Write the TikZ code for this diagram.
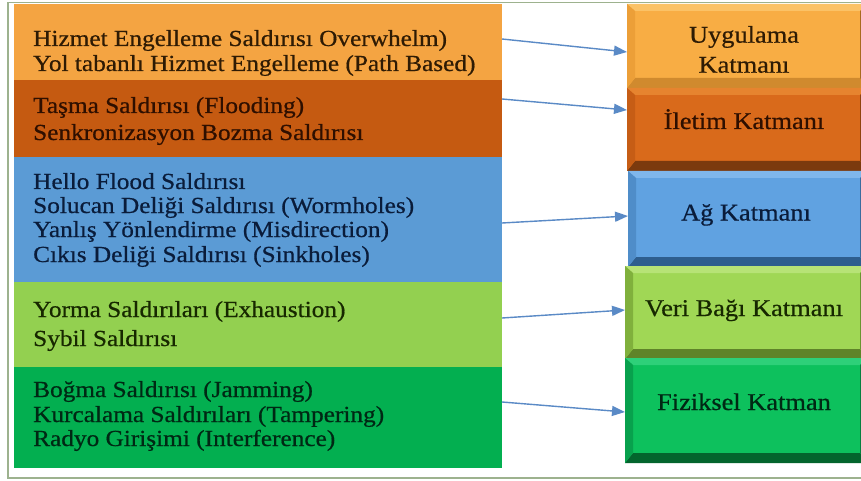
\documentclass[tikz,border=0pt]{standalone}
\usepackage{fontspec}
\setmainfont{Liberation Serif}[FakeStretch=1.1, FakeBold=0.6]
\usetikzlibrary{arrows.meta,calc}

% band colours (left column)
\definecolor{bandA}{HTML}{F4A442}
\definecolor{bandB}{HTML}{C55A11}
\definecolor{bandC}{HTML}{5B9BD5}
\definecolor{bandD}{HTML}{93D050}
\definecolor{bandE}{HTML}{03AF50}
% text colours
\definecolor{txtA}{HTML}{2E1B04}
\definecolor{txtB}{HTML}{2E0F00}
\definecolor{txtC}{HTML}{0A1C3A}
\definecolor{txtD}{HTML}{172800}
\definecolor{txtE}{HTML}{002814}
% bevelled layer boxes: face, top, bottom, left, right
\definecolor{b1face}{HTML}{F8AD44}\definecolor{b1top}{HTML}{FBC266}\definecolor{b1bot}{HTML}{D08A2E}\definecolor{b1lft}{HTML}{EC9F38}\definecolor{b1rgt}{HTML}{A86A1E}
\definecolor{b2face}{HTML}{D96A1B}\definecolor{b2top}{HTML}{E6842F}\definecolor{b2bot}{HTML}{7B3A0E}\definecolor{b2lft}{HTML}{C65D15}\definecolor{b2rgt}{HTML}{8F440E}
\definecolor{b3face}{HTML}{60A2E1}\definecolor{b3top}{HTML}{7FB7EC}\definecolor{b3bot}{HTML}{2E5E8E}\definecolor{b3lft}{HTML}{4F8DC9}\definecolor{b3rgt}{HTML}{3A6C9E}
\definecolor{b4face}{HTML}{A0D755}\definecolor{b4top}{HTML}{B7E376}\definecolor{b4bot}{HTML}{5F8429}\definecolor{b4lft}{HTML}{80B03C}\definecolor{b4rgt}{HTML}{6A9530}
\definecolor{b5face}{HTML}{0DC15D}\definecolor{b5top}{HTML}{2ED079}\definecolor{b5bot}{HTML}{03652D}\definecolor{b5lft}{HTML}{08A14D}\definecolor{b5rgt}{HTML}{078040}
\definecolor{linkblue}{HTML}{5A8AC6}
\definecolor{framegreen}{HTML}{9DB28E}

\tikzset{
  band/.style={rectangle, inner sep=0pt, outer sep=0pt, draw=none},
  layer/.style={rectangle, inner sep=0pt, outer sep=0pt, draw=none},
  attack/.style={anchor=base west, inner sep=0pt, font=\fontsize{23}{25}\selectfont},
  layertext/.style={anchor=base, inner sep=0pt, font=\fontsize{24}{26}\selectfont},
  link/.style={draw=linkblue, line width=1.4pt, -{Triangle[length=13pt,width=10pt]}},
}

% bevel edges around a layer box: node name, colour prefix
\newcommand\bevelsides[2]{%
  \fill[#2top] (#1.north west) -- (#1.north east) -- ([shift={(-8,7)}]#1.north east) -- ([shift={(8,7)}]#1.north west) -- cycle;
  \fill[#2bot] (#1.south west) -- (#1.south east) -- ([shift={(-8,-10)}]#1.south east) -- ([shift={(8,-10)}]#1.south west) -- cycle;
  \fill[#2lft] (#1.north west) -- ([shift={(8,7)}]#1.north west) -- ([shift={(8,-10)}]#1.south west) -- (#1.south west) -- cycle;
  \fill[#2rgt] (#1.north east) -- ([shift={(-8,7)}]#1.north east) -- ([shift={(-8,-10)}]#1.south east) -- (#1.south east) -- cycle;
}

\begin{document}
\begin{tikzpicture}[x=1pt, y=-1pt]
\useasboundingbox (0,0) rectangle (861,481);
\clip (0,0) rectangle (861,481);
\fill[white] (0,0) rectangle (861,481);

% outer frame
\draw[framegreen, line width=1.5pt] (8,2.5) rectangle (880,478);

% left column: attack groups
\node[band, fill=bandA, minimum width=488pt, minimum height=76pt]  (band1) at (258,42) {};
\node[band, fill=bandB, minimum width=488pt, minimum height=77pt]  (band2) at (258,118.5) {};
\node[band, fill=bandC, minimum width=488pt, minimum height=125pt] (band3) at (258,219.5) {};
\node[band, fill=bandD, minimum width=488pt, minimum height=85pt]  (band4) at (258,324.5) {};
\node[band, fill=bandE, minimum width=488pt, minimum height=101pt] (band5) at (258,417.5) {};

\node[attack, txtA] (t1a) at (33,46) {Hizmet Engelleme Saldırısı Overwhelm)};
\node[attack, txtA] (t1b) at (33,71) {Yol tabanlı Hizmet Engelleme (Path Based)};
\node[attack, txtB] (t2a) at (33,113) {Taşma Saldırısı (Flooding)};
\node[attack, txtB] (t2b) at (33,140) {Senkronizasyon Bozma Saldırısı};
\node[attack, txtC] (t3a) at (33,189) {Hello Flood Saldırısı};
\node[attack, txtC] (t3b) at (33,213) {Solucan Deliği Saldırısı (Wormholes)};
\node[attack, txtC] (t3c) at (33,237) {Yanlış Yönlendirme (Misdirection)};
\node[attack, txtC] (t3d) at (33,262) {Cıkıs Deliği Saldırısı (Sinkholes)};
\node[attack, txtD] (t4a) at (33,317) {Yorma Saldırıları (Exhaustion)};
\node[attack, txtD] (t4b) at (33,346) {Sybil Saldırısı};
\node[attack, txtE] (t5a) at (33,397) {Boğma Saldırısı (Jamming)};
\node[attack, txtE] (t5b) at (33,422) {Kurcalama Saldırıları (Tampering)};
\node[attack, txtE] (t5c) at (33,446) {Radyo Girişimi (Interference)};

% right column: protocol layers
\node[layer, fill=b1face, minimum width=241pt, minimum height=84pt]  (lay1) at (747.5,46) {};
\bevelsides{lay1}{b1}
\node[layer, fill=b2face, minimum width=241pt, minimum height=83pt]  (lay2) at (747.5,129.5) {};
\bevelsides{lay2}{b2}
\node[layer, fill=b3face, minimum width=240pt, minimum height=96pt]  (lay3) at (748,219) {};
\bevelsides{lay3}{b3}
\node[layer, fill=b4face, minimum width=243pt, minimum height=93pt]  (lay4) at (746.5,312.5) {};
\bevelsides{lay4}{b4}
\node[layer, fill=b5face, minimum width=243pt, minimum height=105pt] (lay5) at (746.5,410.5) {};
\bevelsides{lay5}{b5}

\node[layertext, txtA] (l1a) at (744,42.7) {Uygulama};
\node[layertext, txtA] (l1b) at (744,72.7) {Katmanı};
\node[layertext, txtB] (l2)  at (744,129)  {İletim Katmanı};
\node[layertext, txtC] (l3)  at (746,220.5) {Ağ Katmanı};
\node[layertext, txtD] (l4)  at (744,316)  {Veri Bağı Katmanı};
\node[layertext, txtE] (l5)  at (744,410)  {Fiziksel Katman};

% links from attack groups to layers
\draw[link] (band1.east |- 0,39)  -- (lay1.west |- 0,52);
\draw[link] (band2.east |- 0,99)  -- (lay2.west |- 0,110);
\draw[link] (band3.east |- 0,223) -- (lay3.west |- 0,216);
\draw[link] (band4.east |- 0,318) -- (lay4.west |- 0,310);
\draw[link] (band5.east |- 0,402) -- (lay5.west |- 0,412);
\end{tikzpicture}
\end{document}
